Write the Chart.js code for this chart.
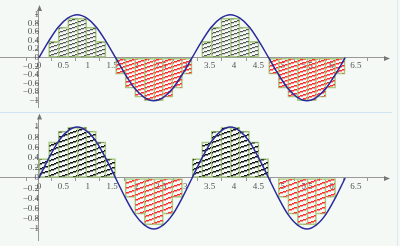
<!DOCTYPE html>
<html>
<head>
<meta charset="utf-8">
<script src="https://cdn.jsdelivr.net/npm/chart.js@4"></script>
<style>
  body { margin: 0; background: #f4f9f6; }
  #wrap { position: relative; width: 400px; height: 246px; overflow: hidden; }
  canvas { position: absolute; left: 0; }
  #top { top: 0; }
  #bottom { top: 113px; }
  .sep { position: absolute; left: 0; top: 112px; width: 392px; height: 1px; background: #d3e5f4; }
  .edge { position: absolute; left: 397px; top: 0; width: 1px; height: 246px; background: #dbe9f5; }
</style>
</head>
<body>
<div id="wrap">
  <div class="sep"></div>
  <div class="edge"></div>
  <canvas id="top" width="400" height="113"></canvas>
  <canvas id="bottom" width="400" height="133"></canvas>
</div>
<script>
// Bin edges along x (33 edges, 32 bins)
const xEdges = [0, 0.196, 0.393, 0.589, 0.785, 0.982, 1.178, 1.374, 1.571,
  1.767, 1.963, 2.160, 2.356, 2.553, 2.749, 2.945, 3.142,
  3.338, 3.534, 3.731, 3.927, 4.123, 4.320, 4.516, 4.712,
  4.909, 5.105, 5.301, 5.498, 5.694, 5.890, 6.087, 6.283];

// Curve values read at the bin edges
const curveY = [0, 0.38, 0.71, 0.92, 1, 0.92, 0.71, 0.38, 0,
  -0.38, -0.71, -0.92, -1, -0.92, -0.71, -0.38, 0,
  0.38, 0.71, 0.92, 1, 0.92, 0.71, 0.38, 0,
  -0.38, -0.71, -0.92, -1, -0.92, -0.71, -0.38, 0];

// Top panel bar heights (lower sum)
const lowerSum = [0, 0.38, 0.71, 0.92, 0.92, 0.71, 0.38, 0,
  -0.38, -0.71, -0.92, -1, -1, -0.92, -0.71, -0.38,
  0, 0.38, 0.71, 0.92, 0.92, 0.71, 0.38, 0,
  -0.38, -0.71, -0.92, -1, -1, -0.92, -0.71, -0.38];

// Bottom panel bar heights (upper sum)
const upperSum = [0.38, 0.71, 0.92, 1, 1, 0.92, 0.71, 0.38,
  0, -0.38, -0.71, -0.92, -0.92, -0.71, -0.38, 0,
  0.38, 0.71, 0.92, 1, 1, 0.92, 0.71, 0.38,
  0, -0.38, -0.71, -0.92, -0.92, -0.71, -0.38, 0];

const xTicks = [0, 0.5, 1, 1.5, 2, 2.5, 3, 3.5, 4, 4.5, 5, 5.5, 6, 6.5];
const yTicks = [-1, -0.8, -0.6, -0.4, -0.2, 0, 0.2, 0.4, 0.6, 0.8, 1];

// slanted hatch pattern, drawn pixel by pixel; a softer second row thickens it
function hatch(color, w, h, soft) {
  const c = document.createElement('canvas');
  c.width = w; c.height = h;
  const g = c.getContext('2d');
  g.fillStyle = color;
  for (let x = 0; x < w; x++) {
    const y = h - 1 - Math.floor(x * h / w);
    g.globalAlpha = 1;
    g.fillRect(x, y, 1, 1);
    g.globalAlpha = soft;
    g.fillRect(x, (y + 1) % h, 1, 1);
  }
  return g.createPattern(c, 'repeat');
}

function fmt(v) {
  const s = String(v);
  return v < 0 ? '\u2212' + s.slice(1) : s;
}

// neighbouring bars share one outline instead of two
function edgeWidths(heights) {
  return c => {
    const i = c.dataIndex;
    const cur = heights[i];
    const prev = heights[i - 1];
    const next = heights[i + 1];
    const same = (a, b) => a !== undefined && a * b > 0;
    const left = same(prev, cur) && Math.abs(prev) > Math.abs(cur) ? 0 : 1;
    const right = same(next, cur) && Math.abs(next) >= Math.abs(cur) ? 0 : 1;
    return { top: 1, bottom: 1, left, right };
  };
}

const arrows = {
  id: 'arrows',
  afterDraw(chart) {
    const g = chart.ctx;
    const a = chart.chartArea;
    const x0 = Math.round(chart.scales.x.getPixelForValue(0)) + 0.5;
    const y0 = Math.round(chart.scales.y.getPixelForValue(0)) + 0.5;
    g.save();
    g.fillStyle = '#777';
    g.beginPath();
    g.moveTo(a.right + 5, y0);
    g.lineTo(a.right - 1, y0 - 2.5);
    g.lineTo(a.right - 1, y0 + 2.5);
    g.closePath();
    g.fill();
    g.beginPath();
    g.moveTo(x0, a.top - 5);
    g.lineTo(x0 - 2.5, a.top + 1);
    g.lineTo(x0 + 2.5, a.top + 1);
    g.closePath();
    g.fill();
    g.restore();
  }
};

function makeChart(id, heights, yMin, yMax, pad, posFill, negFill) {
  const bars = heights.map((v, i) => ({ x: (xEdges[i] + xEdges[i + 1]) / 2, y: v }));
  const curve = curveY.map((v, i) => ({ x: xEdges[i], y: v }));
  const font = { family: 'Liberation Serif', size: 9 };
  return new Chart(document.getElementById(id), {
    type: 'bar',
    data: {
      datasets: [{
        type: 'line',
        data: curve,
        borderColor: '#2a2a9c',
        borderWidth: 1.5,
        pointRadius: 0,
        cubicInterpolationMode: 'monotone',
        order: 0
      }, {
        data: bars,
        backgroundColor: c => (c.raw && c.raw.y < 0 ? negFill : posFill),
        borderColor: '#a9cb80',
        borderWidth: edgeWidths(heights),
        borderSkipped: false,
        barPercentage: 1,
        categoryPercentage: 1,
        order: 1
      }]
    },
    options: {
      responsive: false,
      animation: false,
      devicePixelRatio: 1,
      layout: { padding: pad },
      plugins: { legend: { display: false }, tooltip: { enabled: false } },
      scales: {
        x: {
          type: 'linear',
          offset: false,
          min: -0.8,
          max: 7.1,
          position: { y: 0 },
          afterBuildTicks: s => { s.ticks = xTicks.map(v => ({ value: v })); },
          grid: { drawOnChartArea: false, tickLength: 3, color: '#999' },
          border: { color: '#999' },
          ticks: { font, color: '#555', padding: 0, maxRotation: 0, autoSkip: false, callback: v => fmt(v) }
        },
        y: {
          type: 'linear',
          min: yMin,
          max: yMax,
          position: { x: 0 },
          afterBuildTicks: s => { s.ticks = yTicks.map(v => ({ value: v })); },
          grid: { drawOnChartArea: false, tickLength: 3, color: '#999' },
          border: { color: '#999' },
          ticks: { font, color: '#555', padding: 0, autoSkip: false, callback: v => fmt(v) }
        }
      }
    },
    plugins: [arrows]
  });
}

window.onload = function() {
  makeChart('top', lowerSum, -1.16, 1.11, { left: 0, right: 15, top: 10, bottom: 3 },
    hatch('#555555', 12, 4, 0.25), hatch('#ff2a2a', 12, 4, 0.5));
  makeChart('bottom', upperSum, -1.23, 1.17, { left: 0, right: 15, top: 3, bottom: 4 },
    hatch('#111111', 14, 5, 0.5), hatch('#ff2a2a', 14, 5, 0.5));
};
</script>
</body>
</html>
